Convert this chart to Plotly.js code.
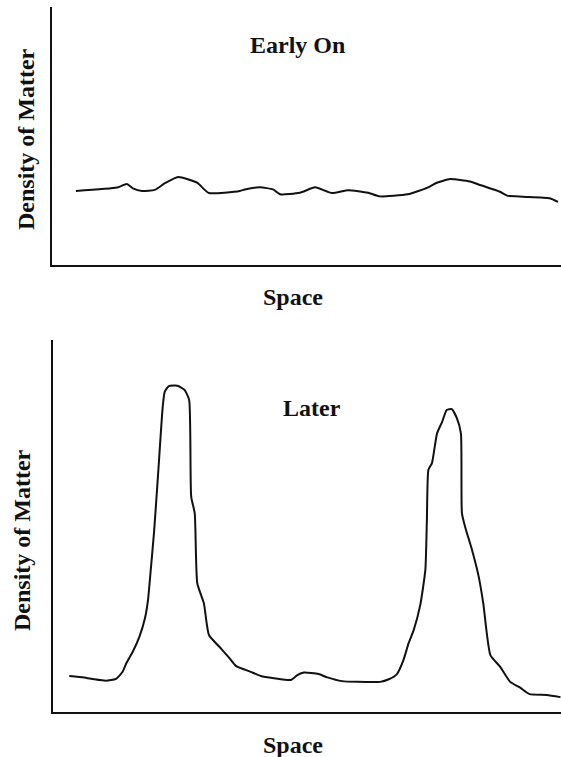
<!DOCTYPE html>
<html>
<head>
<meta charset="utf-8">
<script src="https://cdn.plot.ly/plotly-3.0.1.min.js"></script>
<style>html,body{margin:0;padding:0;background:#fff;}#chart{width:561px;height:757px;}</style>
</head>
<body>
<div id="chart"></div>
<script>
// Early On: density vs space (arbitrary units 0-100)
const earlySpace = [4.7,12.8,14.7,15.9,17.7,20.2,22.2,24.8,28.5,30.8,36.9,37.9,40.9,43.4,44.8,48.7,51.7,55.0,58.2,62.1,64.4,69.9,73.9,75.6,78.2,82.1,84.1,88.0,89.4,92.5,97.8,99.4];
const earlyDensity = [28.7,30.0,31.4,29.7,28.7,29.1,31.7,34.1,31.9,27.9,28.7,29.3,30.1,29.3,27.4,28.0,30.1,27.9,29.0,28.0,26.6,27.4,30.1,31.9,33.3,32.4,31.0,28.4,26.9,26.5,25.9,24.5];

// Later: density vs space
const laterSpace = [3.2,6.1,8.1,10.4,12.4,13.7,14.5,15.7,17.0,18.1,18.7,19.3,19.9,20.7,21.6,22.0,22.8,24.5,25.9,26.8,27.2,27.9,28.4,29.7,30.7,32.7,34.6,36.0,38.9,40.9,43.5,46.8,48.1,49.4,52.3,54.0,56.9,59.9,64.4,66.1,67.7,69.0,70.0,71.0,72.3,73.3,73.6,73.9,74.6,75.6,76.6,77.5,78.5,79.5,80.3,80.5,81.2,82.5,83.8,84.7,86.1,88.0,90.0,91.9,93.8,97.2,99.9];
const laterDensity = [9.7,9.3,8.8,8.4,8.9,10.8,13.3,16.2,20.2,25.2,30.1,39.1,48.5,64.2,82.1,86.1,87.6,87.7,86.6,83.9,57.9,53.4,34.6,29.2,20.7,17.6,14.7,12.4,10.8,9.7,9.1,8.6,9.9,10.6,10.2,9.3,8.3,8.1,8.1,8.8,10.2,14.0,18.5,22.0,28.8,38.2,51.6,65.1,66.9,74.9,78.0,81.2,81.4,79.0,74.9,53.4,49.4,43.5,36.4,29.2,15.3,12.2,8.1,6.6,4.8,4.6,4.0];

const panelTitles = ["Early On", "Later"];
const xLabel = "Space";
const yLabel = "Density of Matter";

const FONT = "'Liberation Serif', 'Times New Roman', Times, serif";
const lineStyle = {color: "#111", width: 2, shape: "spline", smoothing: 0.5};

const traces = [
  {x: earlySpace, y: earlyDensity, xaxis: "x", yaxis: "y", mode: "lines", line: lineStyle, hoverinfo: "skip"},
  {x: laterSpace, y: laterDensity, xaxis: "x2", yaxis: "y2", mode: "lines", line: lineStyle, hoverinfo: "skip"}
];

const W = 561, H = 757;
function px(x){return x / W;}
function py(y){return 1 - y / H;}

const axisBase = {
  showline: true, linecolor: "#111", linewidth: 2, mirror: false,
  showgrid: false, zeroline: false, showticklabels: false, ticks: "",
  range: [0, 100], fixedrange: true
};

function ann(text, x, y, angle){
  return {text: "<b>" + text + "</b>", x: px(x), y: py(y), xref: "paper", yref: "paper",
    xanchor: "center", yanchor: "middle", showarrow: false, textangle: angle || 0,
    font: {family: FONT, size: 24, color: "#111"}};
}

const layout = {
  width: W, height: H,
  margin: {l: 0, r: 0, t: 0, b: 0},
  paper_bgcolor: "#fff", plot_bgcolor: "#fff",
  showlegend: false,
  xaxis: Object.assign({}, axisBase, {domain: [px(52), 1], anchor: "y"}),
  yaxis: Object.assign({}, axisBase, {domain: [py(265), py(7)], anchor: "x"}),
  xaxis2: Object.assign({}, axisBase, {domain: [px(53), 1], anchor: "y2"}),
  yaxis2: Object.assign({}, axisBase, {domain: [py(712), py(340)], anchor: "x2"}),
  annotations: [
    ann(panelTitles[0], 297, 45),
    ann(panelTitles[1], 312, 408),
    ann(xLabel, 293, 297),
    ann(xLabel, 293, 745),
    ann(yLabel, 26, 139, -90),
    ann(yLabel, 22, 540, -90)
  ]
};

Plotly.newPlot("chart", traces, layout, {staticPlot: true, displayModeBar: false});
</script>
</body>
</html>
